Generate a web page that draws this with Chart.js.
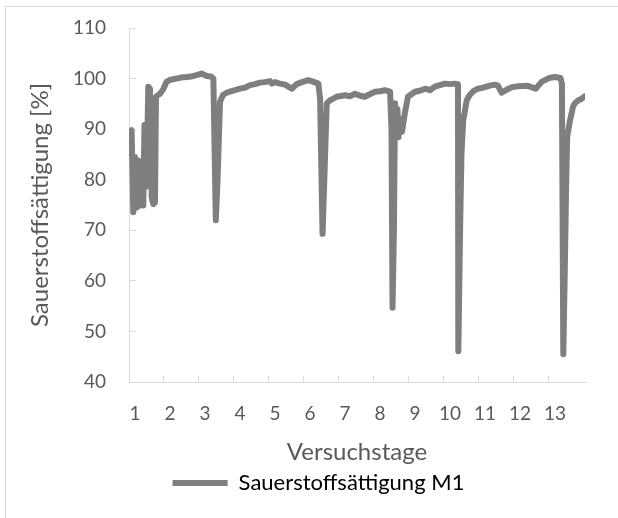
<!DOCTYPE html>
<html>
<head>
<meta charset="utf-8">
<script src="https://cdn.jsdelivr.net/npm/chart.js@4.4.1/dist/chart.umd.min.js"></script>
<style>
  html, body { margin: 0; padding: 0; background: #fff; overflow: hidden; }
  #wrap { position: relative; width: 618px; height: 518px; }
  #frame { position: absolute; left: 5px; top: 6px; width: 640px; height: 540px; border: 1px solid #d9d9d9; }
  canvas { position: absolute; left: 0; top: 0; }
</style>
</head>
<body>
<div id="wrap">
  <div id="frame"></div>
  <canvas id="o2Chart" width="618" height="518"></canvas>
</div>
<script>
// Sauerstoffsättigung M1 over the test days

const dayLabels = [1, 2, 3, 4, 5, 6, 7, 8, 9, 10, 11, 12, 13];

const days = [
    0.837, 0.871, 0.903, 0.951, 0.974, 1.000, 1.049, 1.094, 1.143, 1.191,
    1.237, 1.271, 1.300, 1.334, 1.380, 1.429, 1.477, 1.523, 1.571, 1.600,
    1.650, 1.714, 1.800, 1.906, 2.030, 2.190, 2.310, 2.480, 2.600, 2.760,
    2.900, 3.050, 3.170, 3.240, 3.310, 3.360, 3.430, 3.520, 3.620, 3.710,
    3.860, 4.000, 4.140, 4.290, 4.430, 4.570, 4.710, 4.860, 4.910, 5.000,
    5.140, 5.290, 5.480, 5.620, 5.770, 5.950, 6.090, 6.240, 6.290, 6.360,
    6.410, 6.480, 6.570, 6.760, 7.000, 7.140, 7.290, 7.430, 7.570, 7.710,
    7.860, 8.000, 8.140, 8.290, 8.330, 8.360, 8.400, 8.430, 8.470, 8.500,
    8.530, 8.570, 8.630, 8.710, 8.800, 9.000, 9.140, 9.290, 9.430, 9.570,
    9.710, 9.860, 10.00, 10.14, 10.23, 10.24, 10.29, 10.33, 10.38, 10.48,
    10.57, 10.67, 10.80, 10.95, 11.14, 11.29, 11.37, 11.48, 11.62, 11.77,
    11.96, 12.20, 12.45, 12.63, 12.83, 13.00, 13.16, 13.20, 13.24, 13.29,
    13.32, 13.35, 13.43, 13.52, 13.57, 13.67, 13.74, 13.86
];

const saturation = [
    85.1, 89.6, 89.8, 73.6, 80.0, 84.5, 74.5, 83.8, 74.9, 83.2,
    74.9, 90.8, 78.5, 80.5, 98.4, 98.0, 76.5, 75.2, 75.5, 96.4,
    96.7, 97.0, 97.8, 99.4, 99.8, 100.0, 100.2, 100.3, 100.4, 100.7,
    101.0, 100.5, 100.4, 100.0, 72.0, 80.0, 95.4, 96.8, 97.2, 97.4,
    97.7, 98.0, 98.2, 98.7, 98.9, 99.2, 99.3, 99.5, 99.0, 99.3,
    99.0, 98.8, 98.0, 98.9, 99.3, 99.7, 99.4, 99.0, 96.0, 69.3,
    80.0, 95.1, 95.7, 96.4, 96.7, 96.5, 97.0, 96.6, 96.4, 96.9,
    97.4, 97.5, 97.7, 97.4, 90.0, 54.7, 70.0, 95.1, 90.0, 94.0,
    88.4, 92.0, 89.5, 93.1, 96.4, 97.4, 97.6, 98.0, 97.7, 98.4,
    98.7, 99.0, 98.9, 99.0, 98.9, 46.1, 70.0, 85.1, 91.7, 95.7,
    96.8, 97.5, 98.0, 98.2, 98.6, 98.8, 98.6, 97.2, 97.8, 98.3,
    98.5, 98.6, 98.0, 99.4, 100.1, 100.3, 100.1, 99.0, 45.5, 65.0,
    78.5, 88.4, 91.7, 94.5, 95.1, 95.7, 95.9, 96.5
];

const yMin = 40;
const yMax = 110;
const yStep = 10;

const seriesLabel = 'Sauerstoffsättigung M1';
const lineColor = '#7f7f7f';
const axisGray = '#d9d9d9';
const textGray = '#595959';
const fontFamily = 'Lato, "Liberation Sans", sans-serif';

// day labels sit a bit right of their tick marks (Excel category style)
const labelShift = 0.171;

// Excel centres the legend a little right of the chart middle
const legendNudge = {
    id: 'legendNudge',
    afterLayout(chart) {
        chart.legend.left += 26;
        chart.legend.right += 26;
    }
};

document.addEventListener('DOMContentLoaded', function() {
    const ctx = document.getElementById('o2Chart').getContext('2d');
    new Chart(ctx, {
        type: 'line',
        data: {
            datasets: [{
                label: seriesLabel,
                data: days.map((d, i) => ({ x: d, y: saturation[i] })),
                borderColor: lineColor,
                backgroundColor: lineColor,
                borderWidth: 6,
                borderCapStyle: 'round',
                borderJoinStyle: 'round',
                pointRadius: 0,
                tension: 0,
                fill: false
            }]
        },
        options: {
            responsive: false,
            animation: false,
            devicePixelRatio: 1,
            layout: { padding: { left: 0, right: 33, top: 28, bottom: 14 } },
            scales: {
                x: {
                    type: 'linear',
                    min: dayLabels[0] - labelShift,
                    max: 13.86,
                    afterBuildTicks: s => { s.ticks = dayLabels.map(d => ({ value: d - labelShift })); },
                    afterFit: s => { s.height = 82; },
                    grid: { drawOnChartArea: false, color: axisGray, tickLength: -6 },
                    border: { color: axisGray, width: 1 },
                    ticks: {
                        color: textGray,
                        font: { family: fontFamily, size: 19 },
                        padding: 26,
                        labelOffset: 6,
                        maxRotation: 0,
                        autoSkip: false,
                        callback: (v, i) => dayLabels[i]
                    },
                    title: {
                        display: true,
                        text: 'Versuchstage',
                        color: textGray,
                        font: { family: fontFamily, size: 24, lineHeight: 1 },
                        padding: 0
                    }
                },
                y: {
                    min: yMin,
                    max: yMax,
                    afterFit: s => {
                        s.width = 129;
                        s.paddingTop = 12;
                        s.paddingBottom = 12;
                    },
                    grid: { drawOnChartArea: false, color: axisGray, tickLength: -7 },
                    border: { color: axisGray, width: 1 },
                    ticks: {
                        stepSize: yStep,
                        color: textGray,
                        font: { family: fontFamily, size: 19 },
                        padding: 30
                    },
                    title: {
                        display: true,
                        text: 'Sauerstoffsättigung [%]',
                        color: textGray,
                        font: { family: fontFamily, size: 24, lineHeight: 1 },
                        padding: { top: 28, bottom: 0 }
                    }
                }
            },
            plugins: {
                tooltip: { enabled: false },
                legend: {
                    position: 'bottom',
                    labels: {
                        color: textGray,
                        font: { family: fontFamily, size: 22 },
                        boxWidth: 55,
                        boxHeight: 6,
                        padding: 8,
                        generateLabels: () => [{
                            text: seriesLabel,
                            fillStyle: lineColor,
                            strokeStyle: lineColor,
                            lineWidth: 0,
                            hidden: false,
                            datasetIndex: 0
                        }]
                    }
                }
            }
        },
        plugins: [legendNudge]
    });
});
</script>
</body>
</html>
